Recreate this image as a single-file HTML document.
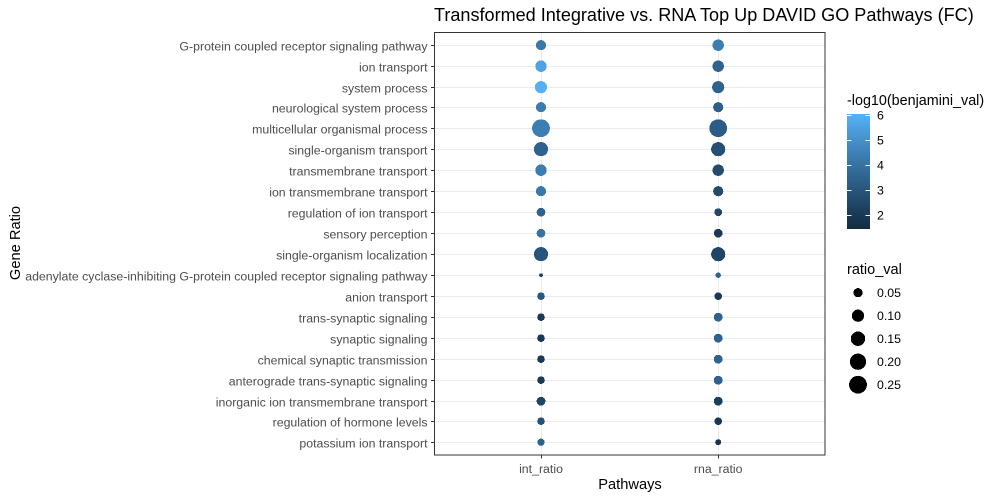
<!DOCTYPE html>
<html>
<head>
<meta charset="utf-8">
<title>Transformed Integrative vs. RNA Top Up DAVID GO Pathways (FC)</title>
<style>
html,body{margin:0;padding:0;background:#fff;width:1000px;height:500px;overflow:hidden}
svg{display:block}
text{font-family:"Liberation Sans",Arial,sans-serif}
</style>
</head>
<body>
<svg id="chart" width="1000" height="500" viewBox="0 0 1000 500"></svg>
<script>
const categories = ["G-protein coupled receptor signaling pathway","ion transport","system process","neurological system process","multicellular organismal process","single-organism transport","transmembrane transport","ion transmembrane transport","regulation of ion transport","sensory perception","single-organism localization","adenylate cyclase-inhibiting G-protein coupled receptor signaling pathway","anion transport","trans-synaptic signaling","synaptic signaling","chemical synaptic transmission","anterograde trans-synaptic signaling","inorganic ion transmembrane transport","regulation of hormone levels","potassium ion transport"];
const pathways = ["int_ratio","rna_ratio"];
const intRatio = [0.064,0.086,0.099,0.064,0.25,0.143,0.086,0.064,0.044,0.044,0.143,0.015,0.032,0.032,0.032,0.032,0.032,0.046,0.032,0.029];
const rnaRatio = [0.086,0.086,0.099,0.064,0.25,0.143,0.086,0.064,0.034,0.044,0.143,0.018,0.032,0.046,0.046,0.046,0.046,0.046,0.032,0.021];
const intLog = [4.2,5.6,6.0,4.3,4.4,3.5,4.4,4.2,3.5,4.0,3.0,2.3,3.1,2.0,2.0,2.0,2.0,2.4,2.9,3.5];
const rnaLog = [4.4,3.5,3.5,3.4,3.3,2.8,2.7,2.6,2.5,2.0,2.4,3.5,2.0,3.5,3.5,3.5,3.5,2.2,1.9,1.8];
const colorTicks = [2,3,4,5,6];
const sizeTicks = ["0.05","0.10","0.15","0.20","0.25"];
const colorDomain = [1.44,6.04];
const sizeDomain = [0.015,0.25];

const svg = document.getElementById('chart');
const NS = 'http://www.w3.org/2000/svg';
function mk(tag, attrs, txt) {
  const e = document.createElementNS(NS, tag);
  for (const k in attrs) e.setAttribute(k, attrs[k]);
  if (txt !== undefined) e.textContent = txt;
  svg.appendChild(e);
  return e;
}
const panel = {l:434.5, r:825, t:32.5, b:455};
function xPos(i){ return 541 + 177.2 * i; }
function yPos(i){ return 45.2 + 20.93 * i; }
function diam(v){
  const t = Math.max(0,(v - sizeDomain[0])/(sizeDomain[1]-sizeDomain[0]));
  return 3.8 + 14.0 * Math.sqrt(t);
}
function rgb2lab(c){
  const f = c.map(v=>{v/=255;return v>0.04045?Math.pow((v+0.055)/1.055,2.4):v/12.92;});
  const X=(0.4124*f[0]+0.3576*f[1]+0.1805*f[2])/0.95047,Y=0.2126*f[0]+0.7152*f[1]+0.0722*f[2],Z=(0.0193*f[0]+0.1192*f[1]+0.9505*f[2])/1.08883;
  const g=v=>v>0.008856?Math.cbrt(v):7.787*v+16/116;
  return [116*g(Y)-16,500*(g(X)-g(Y)),200*(g(Y)-g(Z))];
}
function lab2rgb(l){
  const y=(l[0]+16)/116,x=l[1]/500+y,z=y-l[2]/200;
  const g=v=>v*v*v>0.008856?v*v*v:(v-16/116)/7.787;
  const X=g(x)*0.95047,Y=g(y),Z=g(z)*1.08883;
  const r=[3.2406*X-1.5372*Y-0.4986*Z,-0.9689*X+1.8758*Y+0.0415*Z,0.0557*X-0.2040*Y+1.0570*Z];
  return r.map(v=>{v=Math.max(0,Math.min(1,v));v=v>0.0031308?1.055*Math.pow(v,1/2.4)-0.055:12.92*v;return Math.round(v*255);});
}
const labLow = rgb2lab([19,43,67]), labHigh = rgb2lab([86,177,247]);
function colorOf(v){
  const t = Math.max(0,Math.min(1,(v-colorDomain[0])/(colorDomain[1]-colorDomain[0])));
  const c = lab2rgb(labLow.map((a,i)=>a+(labHigh[i]-a)*t));
  return 'rgb('+c.join(',')+')';
}
function colorY(v){ return 215 - (v-2)*25; }

// title
const title = mk('text',{x:434,y:21,'font-size':18.07,fill:'#000'},'Transformed Integrative vs. RNA Top Up DAVID GO Pathways (FC)');



// gridlines
categories.forEach((c,i)=>{
  const g = mk('line',{x1:panel.l,x2:panel.r,y1:Math.floor(yPos(i))+0.5,y2:Math.floor(yPos(i))+0.5,stroke:'#EBEBEB','stroke-width':1});
  
  
});
pathways.forEach((p,i)=>{
  const g = mk('line',{x1:Math.round(xPos(i))+0.5,x2:Math.round(xPos(i))+0.5,y1:panel.t,y2:panel.b,stroke:'#EBEBEB','stroke-width':1});
  
  
});

// points
function drawSeries(ratios, logs, col, name){
  ratios.forEach((v,i)=>{
    const pt = mk('circle',{cx:xPos(col),cy:Math.floor(yPos(i))+0.2,r:diam(v)/2,fill:colorOf(logs[i]),'shape-rendering':'crispEdges'});
    
    
  });
}
drawSeries(intRatio,intLog,0,'int-ratio-point');
drawSeries(rnaRatio,rnaLog,1,'rna-ratio-point');

// panel border
const border = mk('rect',{x:panel.l,y:panel.t,width:panel.r-panel.l,height:panel.b-panel.t,fill:'none',stroke:'#333','stroke-width':1});



// y axis
categories.forEach((c,i)=>{
  const t = mk('line',{x1:431,x2:434.5,y1:Math.floor(yPos(i))+0.5,y2:Math.floor(yPos(i))+0.5,stroke:'#333','stroke-width':1});
  
  
  const l = mk('text',{x:427.5,y:Math.floor(yPos(i))+5.5,'text-anchor':'end','font-size':12.33,fill:'#4D4D4D'},c);
  
  
});

// x axis
pathways.forEach((p,i)=>{
  const t = mk('line',{x1:Math.round(xPos(i))+0.5,x2:Math.round(xPos(i))+0.5,y1:455,y2:458.5,stroke:'#333','stroke-width':1});
  
  
  const l = mk('text',{x:xPos(i),y:473,'text-anchor':'middle','font-size':12.33,fill:'#4D4D4D'},p);
  
  
});

// axis titles
const xTitle = mk('text',{x:630,y:489,'text-anchor':'middle','font-size':14.67,fill:'#000'},'Pathways');


const yTitle = mk('text',{x:0,y:0,'text-anchor':'middle','font-size':14.67,fill:'#000',transform:'translate(20 243) rotate(-90)'},'Gene Ratio');



// colour legend
const cTitle = mk('text',{x:847,y:105,'font-size':14.35,fill:'#000'},'-log10(benjamini_val)');


for (let y = 114; y < 229; y++) {
  const s = mk('rect',{x:847,y:y,width:23,height:1,fill:colorOf(2+(215-y-0.5)/25),'shape-rendering':'crispEdges'});
  
  
}
colorTicks.forEach(v=>{
  const y = Math.round(colorY(v))+0.5;
  const a = mk('line',{x1:847,x2:851.5,y1:y,y2:y,stroke:'#fff','stroke-width':1});
  
  
  const b = mk('line',{x1:865.5,x2:870,y1:y,y2:y,stroke:'#fff','stroke-width':1});
  
  
  const l = mk('text',{x:877,y:colorY(v)+4.5,'font-size':12.33,fill:'#000'},String(v));
  
  
});

// size legend
const sTitle = mk('text',{x:847,y:274,'font-size':14.5,fill:'#000'},'ratio_val');


sizeTicks.forEach((v,i)=>{
  const y = 292.7 + 23 * i;
  const c = mk('circle',{cx:858,cy:y,r:diam(parseFloat(v))/2,fill:'#000','shape-rendering':'crispEdges'});
  
  
  const l = mk('text',{x:877,y:y+4.5,'font-size':12.33,fill:'#000'},v);
  
  
});
</script>
</body>
</html>
